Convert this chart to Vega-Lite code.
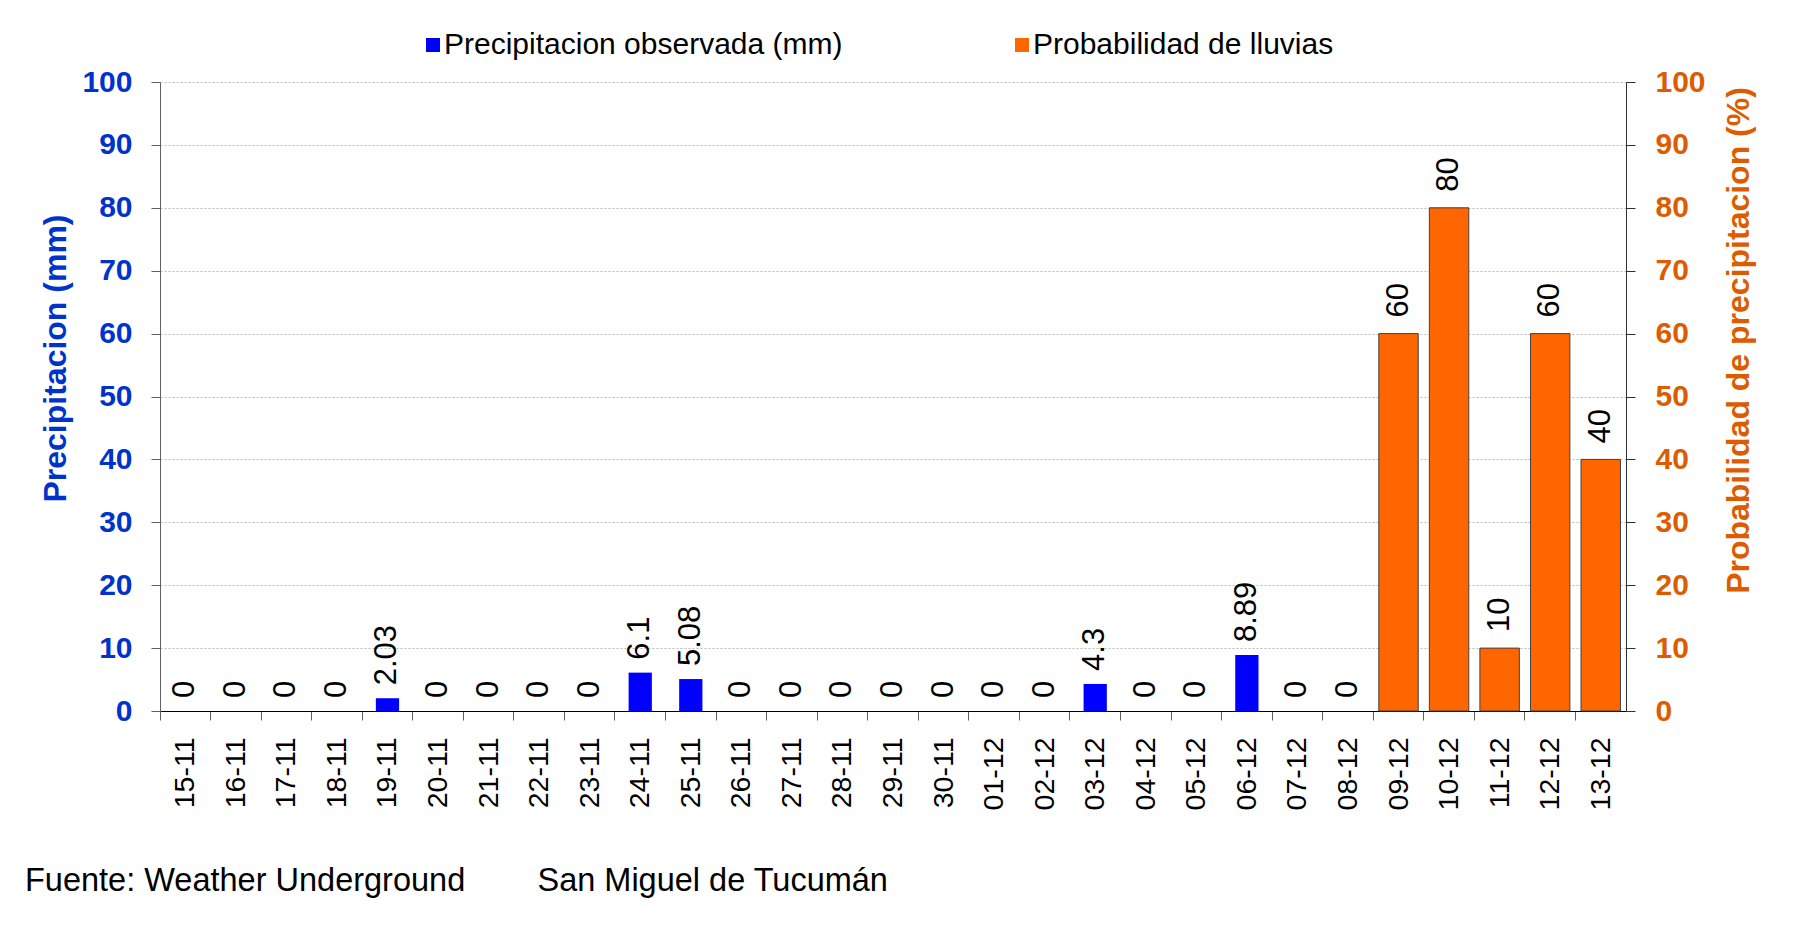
{
  "$schema": "https://vega.github.io/schema/vega-lite/v6.json",
  "width": 1466,
  "height": 629,
  "autosize": {"type": "none"},
  "padding": {"left": 160, "top": 82, "right": 170, "bottom": 215},
  "background": "white",
  "config": {"font": "Liberation Sans", "view": {"stroke": null}},
  "title": {
    "text": "Fuente: Weather Underground\u00a0\u00a0\u00a0\u00a0\u00a0\u00a0\u00a0\u00a0San Miguel de Tucumán",
    "orient": "bottom",
    "anchor": "start",
    "frame": "group",
    "dx": -135,
    "offset": 55,
    "fontSize": 32.5,
    "fontWeight": "normal",
    "color": "black",
    "font": "Liberation Sans"
  },
  "data": {
    "values": [
      {"fecha": "15-11", "precip": 0},
      {"fecha": "16-11", "precip": 0},
      {"fecha": "17-11", "precip": 0},
      {"fecha": "18-11", "precip": 0},
      {"fecha": "19-11", "precip": 2.03},
      {"fecha": "20-11", "precip": 0},
      {"fecha": "21-11", "precip": 0},
      {"fecha": "22-11", "precip": 0},
      {"fecha": "23-11", "precip": 0},
      {"fecha": "24-11", "precip": 6.1},
      {"fecha": "25-11", "precip": 5.08},
      {"fecha": "26-11", "precip": 0},
      {"fecha": "27-11", "precip": 0},
      {"fecha": "28-11", "precip": 0},
      {"fecha": "29-11", "precip": 0},
      {"fecha": "30-11", "precip": 0},
      {"fecha": "01-12", "precip": 0},
      {"fecha": "02-12", "precip": 0},
      {"fecha": "03-12", "precip": 4.3},
      {"fecha": "04-12", "precip": 0},
      {"fecha": "05-12", "precip": 0},
      {"fecha": "06-12", "precip": 8.89},
      {"fecha": "07-12", "precip": 0},
      {"fecha": "08-12", "precip": 0},
      {"fecha": "09-12", "prob": 60},
      {"fecha": "10-12", "prob": 80},
      {"fecha": "11-12", "prob": 10},
      {"fecha": "12-12", "prob": 60},
      {"fecha": "13-12", "prob": 40}
    ]
  },
  "encoding": {
    "x": {
      "field": "fecha",
      "type": "nominal",
      "sort": null,
      "scale": {"paddingInner": 0, "paddingOuter": 0},
      "axis": {
        "title": null,
        "labelAngle": -90,
        "labelFontSize": 28.5,
        "labelColor": "black",
        "bandPosition": 0,
        "tickSize": 9,
        "tickColor": "#606060",
        "domainColor": "black",
        "labelPadding": 17,
        "grid": false
      }
    }
  },
  "layer": [
    {
      "transform": [{"filter": "datum.precip != null"}],
      "encoding": {
        "y": {
          "field": "precip",
          "type": "quantitative",
          "scale": {"domain": [0, 100], "nice": false},
          "axis": {
            "orient": "left",
            "title": "Precipitacion (mm)",
            "titleFontSize": 32,
            "titleFontWeight": "bold",
            "titleColor": "#0033CC",
            "titleX": -105,
            "titleY": 276,
            "titleAngle": 270,
            "titleAlign": "center",
            "titleBaseline": "middle",
            "labelFontSize": 30,
            "labelFontWeight": "bold",
            "labelColor": "#0033CC",
            "values": [0, 10, 20, 30, 40, 50, 60, 70, 80, 90, 100],
            "tickSize": 9,
            "tickColor": "#606060",
            "domainColor": "#606060",
            "labelPadding": 19,
            "grid": true,
            "gridColor": "#BBBBBB",
            "gridDash": [2, 2]
          }
        }
      },
      "layer": [
        {
          "mark": {"type": "bar", "width": {"band": 0.46}},
          "encoding": {
            "color": {
              "datum": "Precipitacion observada (mm)",
              "type": "nominal",
              "scale": {
                "domain": ["Precipitacion observada (mm)", "Probabilidad de lluvias"],
                "range": ["#0000FF", "#FF6600"]
              },
              "legend": {
                "title": null,
                "orient": "none",
                "legendX": 258,
                "legendY": -52,
                "direction": "horizontal",
                "symbolType": "square",
                "symbolSize": 196,
                "symbolStrokeWidth": 0,
                "labelFontSize": 30,
                "labelColor": "black",
                "labelFont": "Liberation Sans",
                "labelLimit": 0,
                "columnPadding": 164,
                "labelOffset": -4,
                "padding": 0
              }
            }
          }
        },
        {
          "mark": {"type": "text", "angle": 270, "align": "left", "baseline": "middle", "dx": 13, "fontSize": 31, "color": "black"},
          "encoding": {"text": {"field": "precip", "type": "nominal"}}
        }
      ]
    },
    {
      "transform": [{"filter": "datum.prob != null"}],
      "encoding": {
        "y": {
          "field": "prob",
          "type": "quantitative",
          "scale": {"domain": [0, 100], "nice": false},
          "axis": {
            "orient": "right",
            "title": "Probabilidad de precipitacion (%)",
            "titleFontSize": 32,
            "titleFontWeight": "bold",
            "titleColor": "#DD5C00",
            "titleX": 112,
            "titleY": 258,
            "titleAngle": 270,
            "titleAlign": "center",
            "titleBaseline": "middle",
            "labelFontSize": 30,
            "labelFontWeight": "bold",
            "labelColor": "#DD5C00",
            "values": [0, 10, 20, 30, 40, 50, 60, 70, 80, 90, 100],
            "tickSize": 9,
            "tickColor": "#303030",
            "domainColor": "#303030",
            "labelPadding": 20,
            "grid": false
          }
        }
      },
      "layer": [
        {
          "mark": {"type": "bar", "width": {"band": 0.78}, "stroke": "#404040", "strokeWidth": 1},
          "encoding": {"color": {"datum": "Probabilidad de lluvias", "type": "nominal"}}
        },
        {
          "mark": {"type": "text", "angle": 270, "align": "left", "baseline": "middle", "dx": 16, "fontSize": 31, "color": "black"},
          "encoding": {"text": {"field": "prob", "type": "nominal"}}
        }
      ]
    }
  ],
  "resolve": {"scale": {"y": "independent"}}
}
